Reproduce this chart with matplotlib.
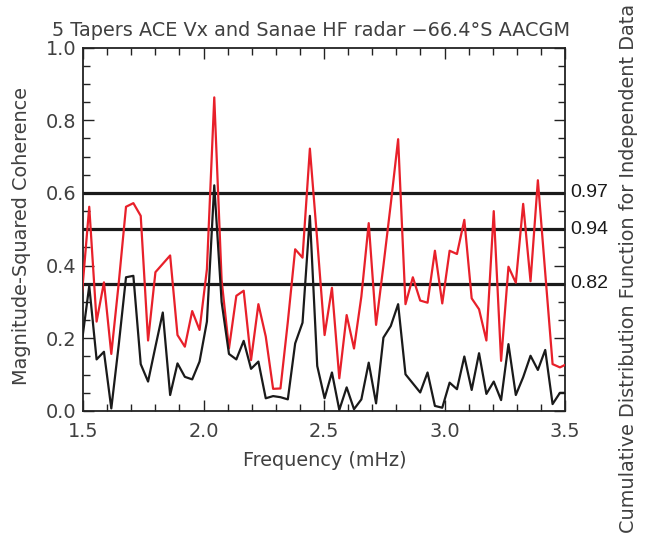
import numpy as np
import matplotlib
matplotlib.use("Agg")
import matplotlib.pyplot as plt
from matplotlib.ticker import MultipleLocator

# Spectral bins: k / 32768 s, expressed in mHz
bin_index = np.arange(49, 116)
freq_mhz = bin_index / 32.768

# Magnitude-squared coherence per frequency bin
coh_red = [0.32, 0.562, 0.246, 0.354, 0.157, 0.35, 0.562, 0.572, 0.537, 0.194,
           0.382, 0.405, 0.428, 0.209, 0.177, 0.275, 0.223, 0.39, 0.863, 0.36,
           0.172, 0.317, 0.331, 0.14, 0.294, 0.205, 0.061, 0.062, 0.245, 0.445,
           0.422, 0.722, 0.47, 0.209, 0.339, 0.09, 0.264, 0.172, 0.315, 0.517,
           0.237, 0.40, 0.57, 0.748, 0.294, 0.368, 0.304, 0.298, 0.441, 0.296,
           0.441, 0.432, 0.526, 0.31, 0.28, 0.194, 0.55, 0.138, 0.397, 0.353,
           0.57, 0.357, 0.635, 0.38, 0.129, 0.12, 0.13]
coh_black = [0.19, 0.344, 0.142, 0.163, 0.007, 0.18, 0.368, 0.372, 0.129, 0.081,
             0.177, 0.271, 0.044, 0.131, 0.094, 0.087, 0.136, 0.246, 0.621, 0.30,
             0.157, 0.142, 0.193, 0.116, 0.136, 0.035, 0.041, 0.038, 0.032, 0.186,
             0.243, 0.537, 0.124, 0.035, 0.106, 0.003, 0.065, 0.005, 0.032, 0.133,
             0.021, 0.202, 0.234, 0.294, 0.101, 0.076, 0.051, 0.106, 0.014, 0.009,
             0.078, 0.06, 0.15, 0.058, 0.159, 0.047, 0.081, 0.03, 0.184, 0.044,
             0.093, 0.152, 0.113, 0.168, 0.019, 0.05, 0.05]

# Significance levels: coherence threshold and CDF label
sig_levels = [0.6, 0.5, 0.35]
sig_labels = ["0.97", "0.94", "0.82"]

x_ticks = [1.5, 2.0, 2.5, 3.0, 3.5]
x_ticklabels = ["1.5", "2.0", "2.5", "3.0", "3.5"]
y_ticks = [0.0, 0.2, 0.4, 0.6, 0.8, 1.0]
y_ticklabels = ["0.0", "0.2", "0.4", "0.6", "0.8", "1.0"]

TXT = "#404040"
FS = 13.9
plt.rcParams["font.family"] = ["DejaVu Sans"]

W, H = 647, 536
fig = plt.figure(figsize=(W / 100, H / 100), dpi=100)
ax = fig.add_axes([83 / W, 1 - 411 / H, (565 - 83) / W, (411 - 47.6) / H])

for lvl in sig_levels:
    ax.axhline(lvl, color="#1a1a1a", lw=2.3, zorder=2)

ax.plot(freq_mhz, coh_red, color="#e8202a", lw=1.6, zorder=3)
ax.plot(freq_mhz, coh_black, color="#1a1a1a", lw=1.6, zorder=4)

ax.set_xlim(1.5, 3.5)
ax.set_ylim(0.0, 1.0)
ax.set_xticks(x_ticks)
ax.set_xticklabels(x_ticklabels)
ax.set_yticks(y_ticks)
ax.set_yticklabels(y_ticklabels)
ax.xaxis.set_minor_locator(MultipleLocator(0.1))
ax.yaxis.set_minor_locator(MultipleLocator(0.05))
ax.tick_params(which="both", direction="in", top=True, right=True,
               color="#222222", width=1.0, labelsize=FS, labelcolor=TXT)
ax.tick_params(which="major", length=8)
ax.tick_params(which="minor", length=5)
ax.tick_params(axis="x", pad=8)
ax.tick_params(axis="y", pad=5)
for sp in ax.spines.values():
    sp.set_linewidth(1.3)
    sp.set_color("#222222")

# Axis labels and title placed in figure pixels
fig.text(325 / W, 1 - 460 / H, "Frequency (mHz)", ha="center", va="center",
         fontsize=FS, color=TXT)
fig.text(22 / W, 1 - 236 / H, "Magnitude-Squared Coherence", rotation=90,
         ha="center", va="center", fontsize=FS, color=TXT)
fig.text(311 / W, 1 - 30 / H, "5 Tapers ACE Vx and Sanae HF radar \u221266.4\u00b0S AACGM",
         ha="center", va="center", fontsize=FS, color=TXT)
fig.text(628 / W, 1 - 268 / H, "Cumulative Distribution Function for Independent Data",
         rotation=90, ha="center", va="center", fontsize=FS, color=TXT)

for lvl, lab in zip(sig_levels, sig_labels):
    ax.annotate(lab, xy=(1.0, lvl), xycoords=("axes fraction", "data"),
                xytext=(3.6, 0), textcoords="offset points", va="center", ha="left",
                fontsize=14, color="#1a1a1a", family=["Liberation Sans"])

fig.savefig("out.png", dpi=100)
